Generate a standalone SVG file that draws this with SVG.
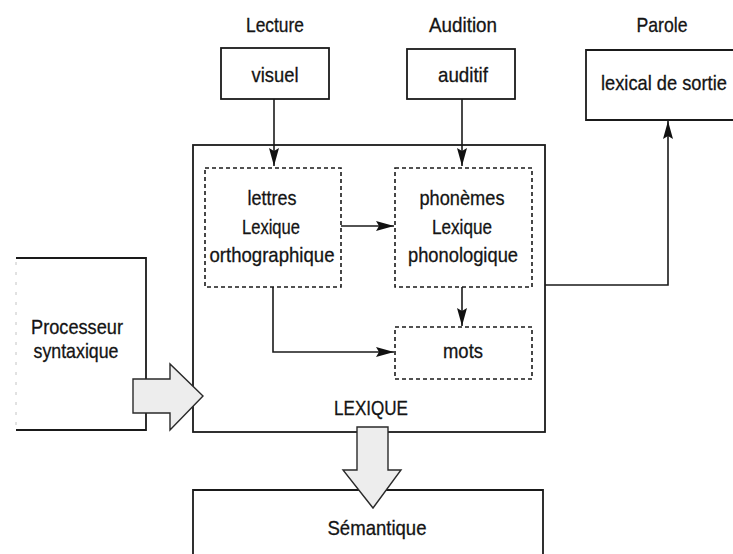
<svg xmlns="http://www.w3.org/2000/svg" width="733" height="554" viewBox="0 0 733 554">
  <defs>
    <marker id="head" viewBox="0 0 18 10" refX="18" refY="5" markerWidth="18" markerHeight="10" markerUnits="userSpaceOnUse" orient="auto">
      <path d="M0,0 L18,5 L0,10 L3,5 Z" fill="#111"/>
    </marker>
  </defs>
  <style>
    text { font-family: "Liberation Sans", Arial, sans-serif; font-size: 21px; fill: #141414; stroke: #141414; stroke-width: 0.3; text-anchor: middle; }
    .box { fill: none; stroke: #1a1a1a; stroke-width: 1.8; }
    .dash { fill: none; stroke: #1a1a1a; stroke-width: 1.6; stroke-dasharray: 4 3; }
    .link { fill: none; stroke: #1a1a1a; stroke-width: 1.6; marker-end: url(#head); }
    .big { fill: #ededed; stroke: #2a2a2a; stroke-width: 1.4; }
  </style>
  <rect width="733" height="554" fill="#fff"/>

  <!-- section titles -->
  <text x="275" y="32" textLength="58" lengthAdjust="spacingAndGlyphs">Lecture</text>
  <text x="463" y="32" textLength="68" lengthAdjust="spacingAndGlyphs">Audition</text>
  <text x="662" y="32" textLength="51" lengthAdjust="spacingAndGlyphs">Parole</text>

  <g id="visuel">
    <rect class="box" x="221" y="48" width="108" height="51"/>
    <text x="275" y="82" textLength="47" lengthAdjust="spacingAndGlyphs">visuel</text>
  </g>
  <g id="auditif">
    <rect class="box" x="407" y="49" width="108" height="50"/>
    <text x="463" y="82" textLength="50" lengthAdjust="spacingAndGlyphs">auditif</text>
  </g>
  <g id="lexical-sortie">
    <path class="box" d="M740,50 H586 V120 H740"/>
    <text transform="translate(601,90) scale(0.87,1)" x="0" y="0" style="text-anchor:start">lexical de sortie</text>
  </g>

  <g id="lexique">
    <rect class="box" x="193" y="145" width="352" height="287"/>
    <text x="371" y="415" textLength="74" lengthAdjust="spacingAndGlyphs">LEXIQUE</text>
  </g>
  <g id="orthographique">
    <rect class="dash" x="205" y="168" width="136" height="119"/>
    <text x="272" y="205" textLength="49" lengthAdjust="spacingAndGlyphs">lettres</text>
    <text x="271" y="234" textLength="58" lengthAdjust="spacingAndGlyphs">Lexique</text>
    <text x="272" y="262" textLength="125" lengthAdjust="spacingAndGlyphs">orthographique</text>
  </g>
  <g id="phonologique">
    <rect class="dash" x="395" y="168" width="137" height="119"/>
    <text x="462" y="205" textLength="85" lengthAdjust="spacingAndGlyphs">phonèmes</text>
    <text x="462" y="234" textLength="60" lengthAdjust="spacingAndGlyphs">Lexique</text>
    <text x="463" y="262" textLength="110" lengthAdjust="spacingAndGlyphs">phonologique</text>
  </g>
  <g id="mots">
    <rect class="dash" x="395" y="327" width="137" height="52"/>
    <text x="463" y="358" textLength="40" lengthAdjust="spacingAndGlyphs">mots</text>
  </g>

  <g id="processeur">
    <path class="box" d="M16,258 H146 V430 H16"/>
    <path d="M16,262 V428" fill="none" stroke="#c4c4c4" stroke-width="1" stroke-dasharray="3 7"/>
    <text x="77" y="334" textLength="92" lengthAdjust="spacingAndGlyphs">Processeur</text>
    <text x="76" y="358" textLength="85" lengthAdjust="spacingAndGlyphs">syntaxique</text>
  </g>

  <g id="semantique">
    <path class="box" d="M193,560 V490 H543 V560"/>
    <text x="377" y="535" textLength="99" lengthAdjust="spacingAndGlyphs">Sémantique</text>
  </g>

  <g id="connectors">
    <path class="link" d="M274,99 V166"/>
    <path class="link" d="M462,99 V166"/>
    <path class="link" d="M341,226 H394"/>
    <path class="link" d="M462,287 V326"/>
    <path class="link" d="M273,287 V352 H394"/>
    <path class="link" d="M545,285 H668 V121"/>
    <!-- broad flow arrows -->
    <path class="big" d="M133,379 H170 V364 L203,396 L170,430 V413 H133 Z"/>
    <path class="big" d="M357,427 H388 V470 H401 L373,508 L343,470 H357 Z"/>
  </g>
</svg>
